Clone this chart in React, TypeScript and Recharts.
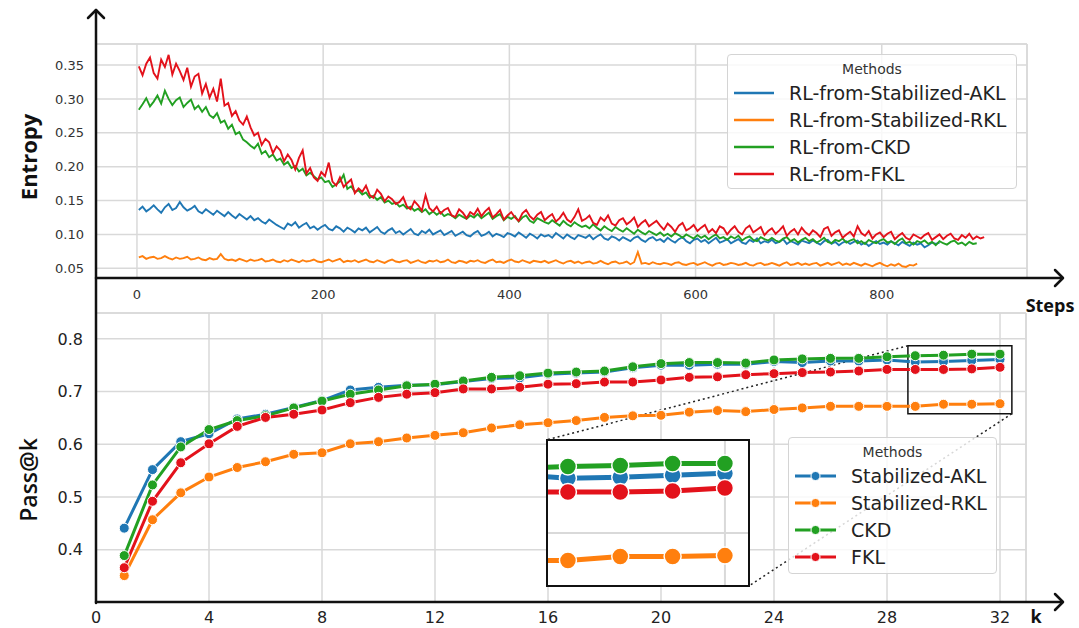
import React from "react";
import { LineChart, Line, XAxis, YAxis, CartesianGrid, ReferenceArea, ReferenceLine } from "recharts";

// ---- entropy curves (sampled every 4 steps, starting at step 2) ----
const STEP_START = 2;
const STEP_GAP = 4;

const ENTROPY_AKL = [
  0.136, 0.141, 0.134, 0.138, 0.143, 0.137, 0.132, 0.14, 0.145, 0.136,
  0.139, 0.148, 0.14, 0.135, 0.138, 0.142, 0.134, 0.131, 0.137, 0.133,
  0.129, 0.135, 0.131, 0.127, 0.133, 0.128, 0.124, 0.13, 0.126, 0.122,
  0.127, 0.121, 0.124, 0.119, 0.116, 0.122, 0.118, 0.114, 0.111, 0.108,
  0.116, 0.113, 0.118, 0.11, 0.114, 0.117, 0.109, 0.112, 0.107, 0.111,
  0.114, 0.108, 0.106, 0.112, 0.109, 0.104, 0.11, 0.107, 0.103, 0.109,
  0.106, 0.11, 0.103, 0.107, 0.111, 0.104, 0.101, 0.106, 0.109, 0.102,
  0.105, 0.1, 0.104, 0.108, 0.101, 0.099, 0.105, 0.102, 0.107, 0.1,
  0.103, 0.106, 0.099, 0.102, 0.105, 0.098, 0.101, 0.104, 0.099, 0.097,
  0.102, 0.105, 0.098, 0.1, 0.104, 0.097, 0.101, 0.099, 0.096, 0.102,
  0.1, 0.097, 0.103, 0.099, 0.095, 0.101, 0.098, 0.094, 0.1, 0.097,
  0.099, 0.095, 0.102, 0.098, 0.094, 0.1, 0.096, 0.093, 0.099, 0.097,
  0.095, 0.099, 0.093, 0.097, 0.1, 0.094, 0.092, 0.097, 0.095, 0.091,
  0.096, 0.093, 0.09, 0.095, 0.097, 0.092, 0.089, 0.094, 0.096, 0.091,
  0.093, 0.089, 0.095, 0.091, 0.088, 0.093, 0.096, 0.09, 0.087, 0.092,
  0.094, 0.089, 0.092, 0.087, 0.091, 0.095, 0.088, 0.09, 0.093, 0.087,
  0.09, 0.093, 0.088, 0.086, 0.092, 0.089, 0.094, 0.087, 0.09, 0.088,
  0.092, 0.087, 0.089, 0.093, 0.086, 0.09, 0.088, 0.085, 0.091, 0.089,
  0.087, 0.091, 0.088, 0.085, 0.09, 0.092, 0.086, 0.089, 0.084, 0.088,
  0.09, 0.086, 0.089, 0.091, 0.085, 0.088, 0.083, 0.087, 0.09, 0.086,
  0.088, 0.085, 0.09, 0.087, 0.084, 0.089, 0.086, 0.083, 0.088, 0.085,
  0.087, 0.081, 0.084, 0.088, 0.086, 0.088,
];

const ENTROPY_RKL = [
  0.066, 0.068, 0.064, 0.066, 0.067, 0.064, 0.065, 0.068, 0.065, 0.063,
  0.066, 0.064, 0.065, 0.067, 0.063, 0.064, 0.066, 0.063, 0.062, 0.065,
  0.063, 0.064, 0.071, 0.064, 0.062, 0.063, 0.061, 0.064, 0.062, 0.06,
  0.063, 0.061, 0.062, 0.064, 0.06, 0.061, 0.063, 0.06, 0.059, 0.062,
  0.06, 0.063, 0.061, 0.059, 0.062, 0.06, 0.061, 0.063, 0.06, 0.059,
  0.061, 0.063, 0.06, 0.062, 0.064, 0.059, 0.061, 0.06, 0.062, 0.059,
  0.061, 0.063, 0.06, 0.059, 0.062, 0.06, 0.058, 0.061, 0.063, 0.06,
  0.059, 0.061, 0.062, 0.058, 0.06, 0.062, 0.059, 0.058, 0.061, 0.06,
  0.062, 0.059, 0.06, 0.063, 0.059, 0.058, 0.061, 0.06, 0.058, 0.061,
  0.06, 0.062, 0.059, 0.058, 0.061, 0.063, 0.059, 0.06, 0.058, 0.061,
  0.063, 0.06, 0.059, 0.062, 0.06, 0.058, 0.061, 0.06, 0.059, 0.061,
  0.058, 0.06, 0.062, 0.059, 0.057, 0.06, 0.061, 0.058, 0.06, 0.057,
  0.059, 0.06, 0.057, 0.058, 0.061, 0.058, 0.056, 0.059, 0.06, 0.057,
  0.058, 0.06, 0.056, 0.059, 0.074, 0.057, 0.058, 0.056, 0.059, 0.057,
  0.056, 0.058, 0.057, 0.055, 0.058, 0.059, 0.056, 0.055, 0.057, 0.058,
  0.055, 0.057, 0.059, 0.056, 0.054, 0.057, 0.058, 0.055, 0.056, 0.058,
  0.057, 0.055, 0.056, 0.058, 0.055, 0.054, 0.057, 0.058, 0.055, 0.056,
  0.058, 0.056, 0.054, 0.057, 0.059, 0.055, 0.056, 0.058, 0.055, 0.057,
  0.055, 0.057, 0.058, 0.054, 0.056, 0.058, 0.055, 0.057, 0.059, 0.055,
  0.057, 0.055, 0.058, 0.056, 0.054, 0.057, 0.055, 0.053, 0.056, 0.058,
  0.055, 0.053, 0.056, 0.054, 0.057, 0.053, 0.052, 0.055, 0.054, 0.057,
];

const ENTROPY_CKD = [
  0.284, 0.292, 0.301, 0.289, 0.296, 0.305, 0.293, 0.312, 0.3, 0.291,
  0.298, 0.302, 0.288, 0.294, 0.299, 0.285, 0.29, 0.281, 0.288, 0.276,
  0.272, 0.279, 0.265, 0.268, 0.256, 0.262, 0.248, 0.251, 0.24, 0.236,
  0.231, 0.227, 0.234, 0.219, 0.223, 0.214, 0.218, 0.209, 0.212, 0.203,
  0.207, 0.198, 0.201, 0.193, 0.197, 0.187, 0.191, 0.186, 0.181, 0.184,
  0.177, 0.179, 0.17, 0.174, 0.178, 0.188, 0.167, 0.171, 0.163, 0.165,
  0.159, 0.162, 0.154, 0.157, 0.151, 0.155, 0.147, 0.15, 0.145, 0.147,
  0.141, 0.144, 0.138, 0.141, 0.135, 0.138, 0.133, 0.137, 0.13, 0.134,
  0.129, 0.133, 0.127, 0.13, 0.128, 0.124, 0.129, 0.126, 0.123, 0.128,
  0.125, 0.13, 0.124, 0.128, 0.132, 0.123, 0.127, 0.13, 0.121, 0.126,
  0.123, 0.127, 0.119, 0.125, 0.128, 0.12, 0.117, 0.124, 0.121, 0.118,
  0.116, 0.121, 0.117, 0.113, 0.12, 0.115, 0.112, 0.118, 0.114, 0.111,
  0.113, 0.109, 0.115, 0.11, 0.106, 0.112, 0.108, 0.105, 0.111, 0.107,
  0.104, 0.109, 0.105, 0.101, 0.107, 0.103, 0.1, 0.105, 0.102, 0.099,
  0.103, 0.098, 0.101, 0.097, 0.102, 0.099, 0.095, 0.1, 0.097, 0.094,
  0.099, 0.095, 0.098, 0.093, 0.097, 0.1, 0.094, 0.096, 0.092, 0.097,
  0.094, 0.098, 0.091, 0.095, 0.097, 0.092, 0.09, 0.096, 0.093, 0.091,
  0.095, 0.091, 0.089, 0.094, 0.096, 0.09, 0.093, 0.088, 0.092, 0.095,
  0.09, 0.093, 0.088, 0.091, 0.095, 0.089, 0.087, 0.092, 0.09, 0.094,
  0.088, 0.091, 0.093, 0.087, 0.09, 0.086, 0.092, 0.089, 0.087, 0.091,
  0.093, 0.088, 0.09, 0.086, 0.091, 0.094, 0.087, 0.089, 0.085, 0.09,
  0.088, 0.091, 0.086, 0.089, 0.084, 0.09, 0.087, 0.085, 0.089, 0.091,
  0.086, 0.088, 0.084, 0.089, 0.086, 0.087,
];

const ENTROPY_FKL = [
  0.348, 0.335, 0.352, 0.361, 0.338, 0.33, 0.358, 0.347, 0.365, 0.336,
  0.352, 0.341, 0.328, 0.346, 0.318, 0.333, 0.337, 0.308, 0.322, 0.302,
  0.315, 0.296, 0.33, 0.29, 0.294, 0.275, 0.282, 0.268, 0.262, 0.274,
  0.258, 0.246, 0.25, 0.232, 0.241, 0.236, 0.22, 0.23, 0.224, 0.208,
  0.218, 0.21, 0.196, 0.213, 0.224, 0.19, 0.198, 0.184, 0.179, 0.192,
  0.186, 0.206, 0.178, 0.172, 0.184, 0.17, 0.176, 0.181, 0.161, 0.168,
  0.163, 0.172, 0.158, 0.154, 0.166, 0.16, 0.149, 0.156, 0.152, 0.145,
  0.148, 0.155, 0.141, 0.137, 0.149, 0.143, 0.135, 0.158, 0.139, 0.134,
  0.141, 0.131, 0.136, 0.139, 0.128, 0.126, 0.137, 0.132, 0.124, 0.133,
  0.129, 0.138, 0.127, 0.134, 0.139, 0.125, 0.13, 0.136, 0.122, 0.128,
  0.133, 0.125, 0.12, 0.131, 0.136, 0.127, 0.122, 0.129, 0.133, 0.121,
  0.126, 0.13, 0.119, 0.124, 0.132, 0.122, 0.118, 0.126, 0.137, 0.12,
  0.123, 0.128, 0.117, 0.114, 0.125, 0.12, 0.128, 0.116, 0.113, 0.121,
  0.124, 0.115, 0.119, 0.125, 0.111, 0.117, 0.121, 0.112, 0.116, 0.12,
  0.113, 0.107, 0.116, 0.111, 0.104, 0.113, 0.117, 0.106, 0.109, 0.114,
  0.105, 0.11, 0.114, 0.103, 0.108, 0.102, 0.112, 0.109, 0.1, 0.107,
  0.112, 0.104, 0.1, 0.109, 0.113, 0.103, 0.107, 0.111, 0.099, 0.105,
  0.109, 0.101, 0.106, 0.112, 0.098, 0.104, 0.108, 0.1, 0.11, 0.103,
  0.099, 0.106, 0.102, 0.096, 0.108, 0.111, 0.098, 0.103, 0.106, 0.095,
  0.1, 0.104, 0.097, 0.112, 0.102, 0.098, 0.105, 0.094, 0.1, 0.103,
  0.096, 0.101, 0.104, 0.093, 0.098, 0.102, 0.095, 0.092, 0.1, 0.097,
  0.094, 0.099, 0.102, 0.092, 0.096, 0.1, 0.093, 0.098, 0.101, 0.094,
  0.092, 0.099, 0.095, 0.101, 0.093, 0.097, 0.094, 0.096,
];

const STEP_TICKS = [0, 200, 400, 600, 800];
const ENTROPY_TICKS = [0.05, 0.1, 0.15, 0.2, 0.25, 0.3, 0.35];

// ---- pass@k ----
const K_VALUES = [
  1, 2, 3, 4, 5, 6, 7, 8, 9, 10, 11, 12, 13, 14, 15, 16,
  17, 18, 19, 20, 21, 22, 23, 24, 25, 26, 27, 28, 29, 30, 31, 32,
];
const PASS_AKL = [
  0.441, 0.552, 0.605, 0.62, 0.648, 0.657, 0.67, 0.683, 0.703, 0.708, 0.712, 0.713, 0.719, 0.725, 0.726, 0.733,
  0.735, 0.737, 0.745, 0.75, 0.75, 0.752, 0.752, 0.757, 0.755, 0.758, 0.758, 0.76, 0.756, 0.757, 0.759, 0.761,
];
const PASS_RKL = [
  0.351, 0.457, 0.508, 0.538, 0.556, 0.567, 0.581, 0.584, 0.601, 0.605, 0.612, 0.617, 0.622, 0.631, 0.637, 0.641,
  0.645, 0.651, 0.654, 0.655, 0.661, 0.664, 0.662, 0.666, 0.669, 0.672, 0.672, 0.672, 0.672, 0.676, 0.676, 0.677,
];
const PASS_CKD = [
  0.389, 0.523, 0.595, 0.628, 0.645, 0.654, 0.669, 0.682, 0.695, 0.703, 0.711, 0.714, 0.72, 0.727, 0.73, 0.735,
  0.737, 0.739, 0.747, 0.753, 0.755, 0.755, 0.754, 0.76, 0.762, 0.763, 0.763, 0.766, 0.768, 0.769, 0.771, 0.771,
];
const PASS_FKL = [
  0.366, 0.492, 0.565, 0.601, 0.634, 0.651, 0.657, 0.665, 0.679, 0.689, 0.695, 0.698, 0.705, 0.705, 0.708, 0.714,
  0.715, 0.718, 0.718, 0.722, 0.727, 0.728, 0.732, 0.734, 0.736, 0.737, 0.739, 0.742, 0.742, 0.742, 0.743, 0.746,
];
const K_TICKS = [0, 4, 8, 12, 16, 20, 24, 28, 32];
const PASS_TICKS = [0.4, 0.5, 0.6, 0.7, 0.8];

const BLUE = "#1f77b4";
const ORANGE = "#ff7f0e";
const GREEN = "#22a022";
const RED = "#e3121b";

const entropySeries = [
  { name: "RL-from-Stabilized-AKL", color: BLUE, values: ENTROPY_AKL },
  { name: "RL-from-Stabilized-RKL", color: ORANGE, values: ENTROPY_RKL },
  { name: "RL-from-CKD", color: GREEN, values: ENTROPY_CKD },
  { name: "RL-from-FKL", color: RED, values: ENTROPY_FKL },
].map((s) => ({ ...s, data: s.values.map((v, i) => ({ step: STEP_START + i * STEP_GAP, v })) }));

const passSeries = [
  { key: "akl", name: "Stabilized-AKL", color: BLUE },
  { key: "rkl", name: "Stabilized-RKL", color: ORANGE },
  { key: "ckd", name: "CKD", color: GREEN },
  { key: "fkl", name: "FKL", color: RED },
];

const passData = K_VALUES.map((k, i) => ({
  k,
  akl: PASS_AKL[i],
  rkl: PASS_RKL[i],
  ckd: PASS_CKD[i],
  fkl: PASS_FKL[i],
}));
const insetData = passData.filter((d) => d.k >= 28);

const TICK_FONT = "DejaVu Sans, sans-serif";
const LABEL_FONT = "'Open Sans', sans-serif";
const GRID = "#d9d9d9";

const Legend: React.FC<{
  left: number; top: number; width: number; height: number;
  items: { name: string; color: string }[]; withDot?: boolean; lineEnd: number; textX: number;
}> = ({ left, top, width, height, items, withDot, lineEnd, textX }) => (
  <div
    style={{
      position: "absolute", left, top, width, height, boxSizing: "border-box",
      background: "rgba(255,255,255,0.82)", border: "1px solid #d4d4d4", borderRadius: 4,
    }}
  >
    <svg width={width - 2} height={height - 2} style={{ display: "block" }}>
      <text x={(width - 2) / 2} y={14} textAnchor="middle" dominantBaseline="central"
        fontFamily={TICK_FONT} fontSize={14} fill="#333">Methods</text>
      {items.map((it, i) => {
        const y = 38 + i * 27;
        return (
          <g key={it.name}>
            <line x1={6} x2={lineEnd} y1={y} y2={y} stroke={it.color} strokeWidth={withDot ? 3 : 2.5} />
            {withDot && <circle cx={(6 + lineEnd) / 2} cy={y} r={4.5} fill={it.color} stroke="#fff" strokeWidth={1} />}
            <text x={textX} y={y} dominantBaseline="central" fontFamily={TICK_FONT} fontSize={19} fill="#222">
              {it.name}
            </text>
          </g>
        );
      })}
    </svg>
  </div>
);

export default function App() {
  return (
    <div style={{ position: "absolute", left: 0, top: 0, width: 1079, height: 628, background: "#fff", overflow: "hidden" }}>
      {/* entropy vs steps */}
      <div style={{ position: "absolute", left: 0, top: 0 }}>
        <LineChart width={1079} height={320} margin={{ top: 44, right: 52, bottom: 12, left: 36 }}>
          <CartesianGrid stroke={GRID} strokeWidth={1.5} />
          <XAxis
            type="number" dataKey="step" domain={[-44, 956]} ticks={STEP_TICKS} interval={0}
            axisLine={false} tickLine={false} tickSize={0} tickMargin={12} height={30}
            tick={{ fontSize: 13, fill: "#333", fontFamily: TICK_FONT }} allowDuplicatedCategory={false}
          />
          <YAxis
            type="number" domain={[0.0357, 0.381]} ticks={ENTROPY_TICKS} interval={0} allowDataOverflow
            axisLine={false} tickLine={false} tickSize={0} tickMargin={12} width={60}
            tickFormatter={(v: number) => v.toFixed(2)}
            tick={{ fontSize: 13, fill: "#333", fontFamily: TICK_FONT }}
          />
          {entropySeries.map((s) => (
            <Line key={s.name} data={s.data} dataKey="v" name={s.name} type="linear" stroke={s.color}
              strokeWidth={1.9} dot={false} isAnimationActive={false} />
          ))}
        </LineChart>
      </div>

      {/* pass@k vs k */}
      <div style={{ position: "absolute", left: 0, top: 300 }}>
        <LineChart width={1079} height={328} data={passData} margin={{ top: 13, right: 53, bottom: 0, left: 36 }}>
          <CartesianGrid stroke={GRID} strokeWidth={1.5} />
          <XAxis
            type="number" dataKey="k" domain={[0, 32.92]} ticks={K_TICKS} interval={0} allowDataOverflow
            axisLine={false} tickLine={false} tickSize={0} tickMargin={10} height={26}
            tick={{ fontSize: 16, fill: "#222", fontFamily: TICK_FONT }}
          />
          <YAxis
            type="number" domain={[0.301, 0.849]} ticks={PASS_TICKS} interval={0} allowDataOverflow
            axisLine={false} tickLine={false} tickSize={0} tickMargin={13} width={60}
            tickFormatter={(v: number) => v.toFixed(1)}
            tick={{ fontSize: 16, fill: "#222", fontFamily: TICK_FONT }}
          />
          <ReferenceLine segment={[{ x: 28.74, y: 0.787 }, { x: 15.96, y: 0.6085 }]} ifOverflow="visible"
            stroke="#222" strokeWidth={1.5} strokeDasharray="2 3" />
          <ReferenceLine segment={[{ x: 32.42, y: 0.658 }, { x: 23.12, y: 0.3318 }]} ifOverflow="visible"
            stroke="#222" strokeWidth={1.5} strokeDasharray="2 3" />
          {passSeries.map((s) => (
            <Line key={s.key} dataKey={s.key} name={s.name} type="linear" stroke={s.color} strokeWidth={3}
              dot={{ r: 5, fill: s.color, stroke: "#fff", strokeWidth: 1 }} isAnimationActive={false} />
          ))}
          <ReferenceArea x1={28.74} x2={32.42} y1={0.658} y2={0.787} ifOverflow="visible"
            fill="none" fillOpacity={0} stroke="#111" strokeWidth={1.5} />
        </LineChart>
      </div>

      {/* zoomed inset */}
      <div style={{ position: "absolute", left: 547, top: 440, width: 202, height: 146, background: "#fff" }}>
        <LineChart width={202} height={146} data={insetData} margin={{ top: 0, right: 0, bottom: 0, left: 0 }}>
          <XAxis hide type="number" dataKey="k" domain={[28.6, 32.46]} allowDataOverflow />
          <YAxis hide type="number" domain={[0.646, 0.795]} allowDataOverflow />
          <ReferenceLine x={32} stroke={GRID} strokeWidth={2} />
          <ReferenceLine y={0.7} stroke={GRID} strokeWidth={2} />
          {passSeries.map((s) => (
            <Line key={s.key} dataKey={s.key} type="linear" stroke={s.color} strokeWidth={5}
              dot={{ r: 8.5, fill: s.color, stroke: "#fff", strokeWidth: 1.5 }} isAnimationActive={false} />
          ))}
        </LineChart>
      </div>

      <Legend left={727} top={54} width={290} height={135} items={entropySeries} lineEnd={46} textX={61} />
      <Legend left={788} top={437} width={209} height={137} items={passSeries} withDot lineEnd={47} textX={62} />

      {/* axes, arrows, frame, labels */}
      <svg width={1079} height={628} style={{ position: "absolute", left: 0, top: 0, pointerEvents: "none" }}>
        <g stroke={GRID} strokeWidth={1.5} fill="none">
          <line x1={96} x2={1027} y1={44} y2={44} />
          <line x1={1027} x2={1027} y1={44} y2={278} />
          <line x1={96} x2={1026} y1={313} y2={313} />
          <line x1={1026} x2={1026} y1={313} y2={602} />
        </g>
        <g stroke="#111" strokeWidth={2.5} fill="none" strokeLinecap="round" strokeLinejoin="round">
          <line x1={96} x2={96} y1={10} y2={603} />
          <polyline points="88,18 96,10 104,18" />
          <line x1={96} x2={1062} y1={278} y2={278} />
          <polyline points="1055,270 1063,278 1055,286" />
          <line x1={96} x2={1062} y1={602} y2={602} />
          <polyline points="1055,594 1063,602 1055,610" />
        </g>
        <rect x={547} y={440} width={202} height={146} fill="none" stroke="#111" strokeWidth={2} />
        <text x={28} y={157} transform="rotate(-90 28 157)" textAnchor="middle" dominantBaseline="central"
          fontFamily={LABEL_FONT} fontWeight={700} fontSize={22} fill="#111">Entropy</text>
        <text x={28} y={480} transform="rotate(-90 28 480)" textAnchor="middle" dominantBaseline="central"
          fontFamily={LABEL_FONT} fontWeight={600} fontSize={23} fill="#111">Pass@k</text>
        <text x={1050} y={305} textAnchor="middle" dominantBaseline="central"
          fontFamily={LABEL_FONT} fontWeight={700} fontSize={18} fill="#111">Steps</text>
        <text x={1036} y={616} textAnchor="middle" dominantBaseline="central"
          fontFamily={LABEL_FONT} fontWeight={700} fontSize={18} fill="#111">k</text>
      </svg>
    </div>
  );
}
